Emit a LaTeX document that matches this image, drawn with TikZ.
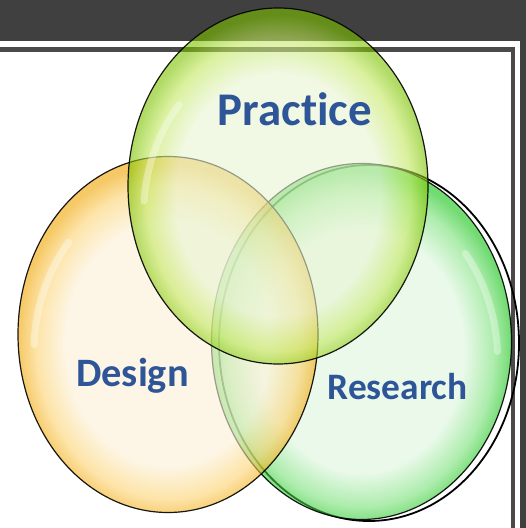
\documentclass[tikz,border=0pt]{standalone}
\usepackage{fontspec}
\setmainfont{Carlito}[Ligatures={NoCommon}]
\usetikzlibrary{shapes.geometric}

% colours of the three sets (inner tint, mid tone, rim)
\definecolor{frameDark}{HTML}{404040}
\definecolor{frameLine}{HTML}{4A4A4A}
\definecolor{labelBlue}{HTML}{2E5597}
\definecolor{practiceIn}{RGB}{232,245,210}
\definecolor{practiceMid}{RGB}{195,232,95}
\definecolor{practiceRim}{RGB}{125,195,0}
\definecolor{designIn}{RGB}{252,241,216}
\definecolor{designMid}{RGB}{252,210,110}
\definecolor{designRim}{RGB}{240,165,0}
\definecolor{researchIn}{RGB}{222,246,222}
\definecolor{researchMid}{RGB}{120,225,120}
\definecolor{researchRim}{RGB}{20,195,20}

\pgfdeclareradialshading{practiceglow}{\pgfpoint{0bp}{-2bp}}{%
  color(0bp)=(practiceIn); color(17bp)=(practiceIn); color(22bp)=(practiceMid);
  color(25bp)=(practiceRim); color(50bp)=(practiceRim)}
\pgfdeclareradialshading{designglow}{\pgfpoint{0bp}{-2bp}}{%
  color(0bp)=(designIn); color(17bp)=(designIn); color(22bp)=(designMid);
  color(25bp)=(designRim); color(50bp)=(designRim)}
\pgfdeclareradialshading{researchglow}{\pgfpoint{0bp}{-2bp}}{%
  color(0bp)=(researchIn); color(17bp)=(researchIn); color(22bp)=(researchMid);
  color(25bp)=(researchRim); color(50bp)=(researchRim)}

\tikzset{
  setdisc/.style={ellipse, inner sep=0pt, minimum width=300bp, minimum height=356bp,
    draw=black, draw opacity=0.9, line width=1.2bp, fill opacity=0.6},
  setlabel/.style={text=labelBlue, inner sep=0pt, anchor=base},
  highlight/.style={white, line width=7bp, opacity=0.35, line cap=round},
}

\begin{document}
\begin{tikzpicture}[x=1bp,y=-1bp]
  \useasboundingbox (0,0) rectangle (526,528);

  % page frame: dark title band, right band and the inner border line
  \fill[white] (0,0) rectangle (526,528);
  \fill[frameDark] (0,0) rectangle (526,41.5);
  \fill[frameDark] (519.5,0) rectangle (526,528);
  \draw[frameLine, line width=4.5bp] (-10,49.5) -- (513,49.5) -- (513,540);

  % offset outline behind the research set
  \node[ellipse, inner sep=0pt, minimum width=300bp, minimum height=356bp,
        draw=black, line width=1.8bp] (researchshadow) at (369,343) {};

  % the three sets
  \node[setdisc, shading=researchglow] (research) at (361.5,341.5) {};
  \node[setdisc, shading=designglow] (design) at (168,334.5) {};
  \node[setdisc, shading=practiceglow] (practice) at (278,186) {};

  % soft glossy highlights inside each rim
  \draw[highlight] (practice.center) ++(-134,15) arc[start angle=185, end angle=222, x radius=139, y radius=166];
  \draw[highlight] (design.center) ++(-134,10) arc[start angle=183, end angle=222, x radius=136, y radius=166];
  \draw[highlight] (research.center) ++(136,10) arc[start angle=-3, end angle=-40, x radius=138, y radius=166];

  % labels
  \node[setlabel, font=\bfseries\fontsize{47}{47}\selectfont] (practicelabel) at (295,126) {Practice};
  \node[setlabel, font=\bfseries\fontsize{40.5}{40.5}\selectfont] (designlabel) at (132.5,386.5) {Design};
  \node[setlabel, font=\bfseries\fontsize{37.5}{37.5}\selectfont] (researchlabel) at (397.5,399) {Research};
\end{tikzpicture}
\end{document}
